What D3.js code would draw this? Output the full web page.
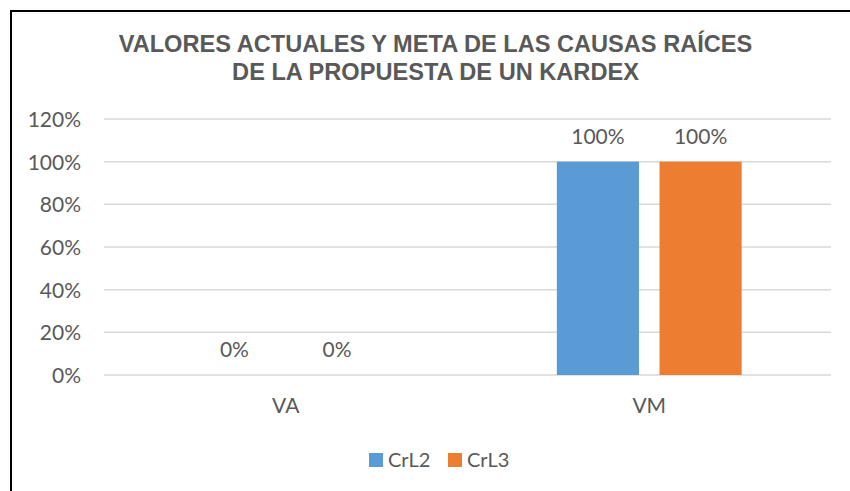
<!DOCTYPE html>
<html>
<head>
<meta charset="utf-8">
<script src="https://cdn.jsdelivr.net/npm/d3@7"></script>
<style>
  body { margin: 0; background: #fff; }
  svg { display: block; }
</style>
</head>
<body>
<div id="chart"></div>
<script>
// chart data
const categories = ['VA', 'VM'];
const seriesNames = ['CrL2', 'CrL3'];
const crl2Values = [0, 1];
const crl3Values = [0, 1];
const yTicks = [0, 0.2, 0.4, 0.6, 0.8, 1.0, 1.2];
const titleLines = [
  'VALORES ACTUALES Y META DE LAS CAUSAS RAÍCES',
  'DE LA PROPUESTA DE UN KARDEX'
];

const colors = ['#5B9BD5', '#ED7D31'];
const textColor = '#595959';
const width = 850, height = 491;

const svg = d3.select('#chart').append('svg')
  .attr('width', width)
  .attr('height', height);

// outer frame (only left and top edges visible in the picture)
svg.append('path')
  .attr('d', 'M11,' + height + ' V11 H' + width)
  .attr('fill', 'none')
  .attr('stroke', '#000')
  .attr('stroke-width', 2);

// title
svg.append('g')
  .selectAll('text')
  .data(titleLines)
  .join('text')
  .attr('x', 435.5)
  .attr('y', (d, i) => 52 + i * 28)
  .attr('text-anchor', 'middle')
  .attr('font-family', 'Liberation Sans, Arial, sans-serif')
  .attr('font-weight', 'bold')
  .attr('font-size', '23.6px')
  .attr('fill', textColor)
  .text(d => d);

// scales
const x0 = d3.scaleBand().domain(categories).range([104, 831]).padding(0);
const x1 = d3.scaleBand().domain(seriesNames)
  .range([0, x0.bandwidth()])
  .paddingInner(0.2)
  .paddingOuter(0.87);
const y = d3.scaleLinear().domain([0, 1.2]).range([375, 119]);

// gridlines
svg.append('g')
  .selectAll('line')
  .data(yTicks)
  .join('line')
  .attr('x1', 104)
  .attr('x2', 831)
  .attr('y1', d => y(d))
  .attr('y2', d => y(d))
  .attr('stroke', '#D9D9D9')
  .attr('stroke-width', 1.5);

// y axis labels
const yAxis = d3.axisLeft(y).tickValues(yTicks)
  .tickFormat(d3.format('.0%')).tickSize(0).tickPadding(0);
const yg = svg.append('g').attr('transform', 'translate(81,0)').call(yAxis);
yg.select('.domain').remove();
yg.selectAll('text')
  .attr('font-family', 'Lato, sans-serif')
  .attr('font-size', '21px')
  .attr('fill', textColor)
  .attr('dy', '0.36em');

// x axis labels
const xAxis = d3.axisBottom(x0).tickSize(0).tickPadding(0);
const xg = svg.append('g').attr('transform', 'translate(0,413)').call(xAxis);
xg.select('.domain').remove();
xg.selectAll('text')
  .attr('font-family', 'Lato, sans-serif')
  .attr('font-size', '21px')
  .attr('fill', textColor)
  .attr('dy', 0);

// bars
const rows = categories.map((c, i) => ({
  cat: c,
  vals: [
    { name: seriesNames[0], v: crl2Values[i], color: colors[0] },
    { name: seriesNames[1], v: crl3Values[i], color: colors[1] }
  ]
}));

const groups = svg.append('g')
  .selectAll('g')
  .data(rows)
  .join('g')
  .attr('transform', d => 'translate(' + x0(d.cat) + ',0)');

groups.selectAll('rect')
  .data(d => d.vals)
  .join('rect')
  .attr('x', d => x1(d.name))
  .attr('width', x1.bandwidth())
  .attr('y', d => y(d.v))
  .attr('height', d => y(0) - y(d.v))
  .attr('fill', d => d.color);

// value labels
groups.selectAll('text')
  .data(d => d.vals)
  .join('text')
  .attr('x', d => x1(d.name) + x1.bandwidth() / 2)
  .attr('y', d => y(d.v) - 18)
  .attr('text-anchor', 'middle')
  .attr('font-family', 'Lato, sans-serif')
  .attr('font-size', '21px')
  .attr('fill', textColor)
  .text(d => d3.format('.0%')(d.v));

// legend
const legend = svg.append('g')
  .selectAll('g')
  .data(seriesNames)
  .join('g')
  .attr('transform', (d, i) => 'translate(' + (369 + i * 79) + ',453)');

legend.append('rect')
  .attr('width', 14)
  .attr('height', 14)
  .attr('fill', (d, i) => colors[i]);

legend.append('text')
  .attr('x', 19)
  .attr('y', 13.5)
  .attr('font-family', 'Lato, sans-serif')
  .attr('font-size', '20px')
  .attr('fill', textColor)
  .text(d => d);
</script>
</body>
</html>
